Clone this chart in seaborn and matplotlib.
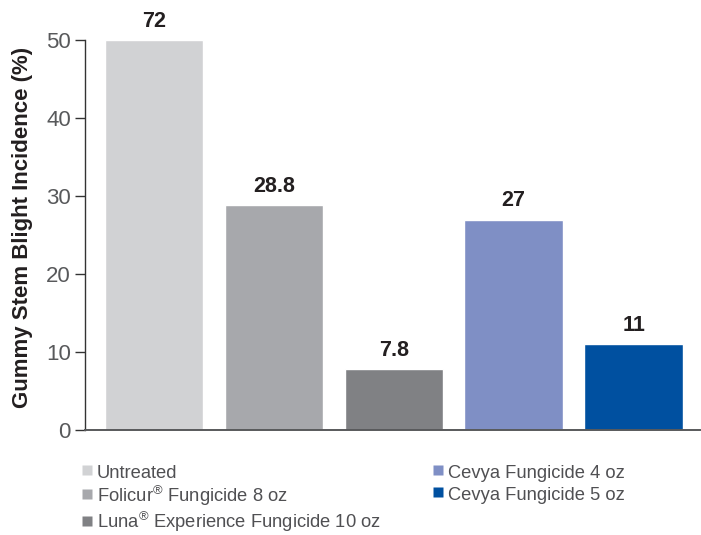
import numpy as np
import pandas as pd
import matplotlib
matplotlib.use("Agg")
import matplotlib.pyplot as plt
from matplotlib.lines import Line2D
import seaborn as sns

# data
treatments = ["Untreated", "Folicur$^{®}$ Fungicide 8 oz",
              "Luna$^{®}$ Experience Fungicide 10 oz",
              "Cevya Fungicide 4 oz", "Cevya Fungicide 5 oz"]
incidence = [72, 28.8, 7.8, 27, 11]
value_labels = ["72", "28.8", "7.8", "27", "11"]
colors = ["#D1D2D4", "#A7A8AC", "#808184", "#7F8FC5", "#0050A0"]
y_ticks = [0, 10, 20, 30, 40, 50]
y_max = 50

sns.set_style("white")
plt.rcParams["font.family"] = ["Liberation Sans", "DejaVu Sans"]
plt.rcParams["mathtext.default"] = "regular"

df = pd.DataFrame({"treatment": treatments, "value": incidence})
# the untreated bar runs off the top of the axis
df["shown"] = np.minimum(df["value"], y_max)

fig = plt.figure(figsize=(7.01, 5.35), dpi=100)
ax = fig.add_axes([0.121, 0.196, 0.877, 0.729])

sns.barplot(data=df, x="treatment", y="shown", hue="treatment",
            palette=colors, width=0.82, saturation=1, legend=False, ax=ax)

for cont, lab in zip(ax.containers, value_labels):
    ax.bar_label(cont, labels=[lab], padding=6, fontsize=15.5,
                 fontweight="bold", color="#231F20", clip_on=False)

ax.set_ylim(0, y_max)
ax.set_xlim(-0.575, 4.55)
ax.set_yticks(y_ticks)
ax.set_yticklabels([str(t) for t in y_ticks], fontsize=16, color="#58595B")
ax.tick_params(axis="y", length=7, width=1, color="#333333", pad=3, left=True)
ax.yaxis.get_major_ticks()[1].tick1line.set_color("#1F5FA8")
ax.set_xticks([])
ax.set_xlabel("")
ax.set_ylabel("Gummy Stem Blight Incidence (%)", fontsize=16,
              fontweight="bold", color="#231F20", va="center")
ax.yaxis.set_label_coords(-0.102, 0.52)

for s in ["top", "right"]:
    ax.spines[s].set_visible(False)
ax.spines["left"].set_color("#333333")
ax.spines["bottom"].set_color("#58595B")
ax.spines["left"].set_linewidth(1)
ax.spines["bottom"].set_linewidth(1.4)

handles = [Line2D([], [], marker="s", linestyle="none", markersize=7,
                  markerfacecolor=c, markeredgecolor="none") for c in colors]
fig.legend(handles, treatments, loc="upper left",
           bbox_to_anchor=(0.116, 0.136), ncol=2, frameon=False,
           borderpad=0, borderaxespad=0,
           fontsize=13.2, handlelength=0.6, handleheight=1.2,
           handletextpad=0.25, labelspacing=0.12, columnspacing=2.8,
           labelcolor="#505053")

fig.savefig("out.png", dpi=100)
